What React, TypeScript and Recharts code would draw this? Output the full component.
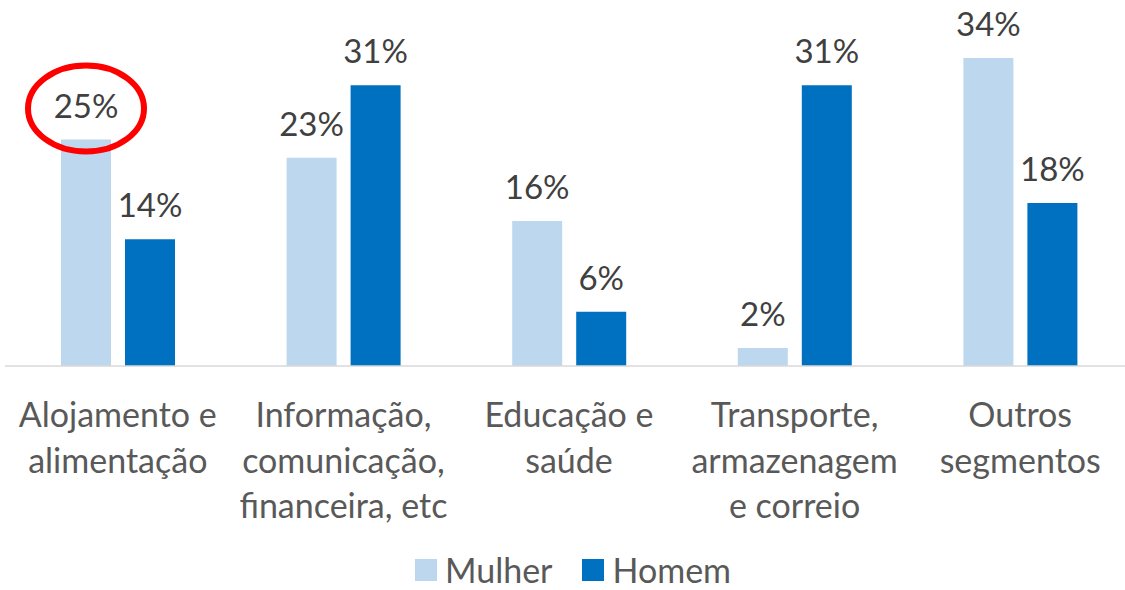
import { BarChart, Bar, XAxis, YAxis, Legend, LabelList } from "recharts";

const categories = [
  "Alojamento e alimentação",
  "Informação, comunicação, financeira, etc",
  "Educação e saúde",
  "Transporte, armazenagem e correio",
  "Outros segmentos",
];

// how each category label breaks into lines under the axis
const categoryLines = [
  ["Alojamento e", "alimentação"],
  ["Informação,", "comunicação,", "financeira, etc"],
  ["Educação e", "saúde"],
  ["Transporte,", "armazenagem", "e correio"],
  ["Outros", "segmentos"],
];

const mulher = [25, 23, 16, 2, 34];
const homem = [14, 31, 6, 31, 18];

// the label that carries the red circle
const circledIndex = 0;

const data = categories.map((name, i) => ({
  name,
  lines: categoryLines[i],
  Mulher: mulher[i],
  Homem: homem[i],
}));

const FONT = "Lato, 'Noto Sans', sans-serif";
const LIGHT = "#BDD7EE";
const DARK = "#0070C0";

function CategoryTick(props: any) {
  const { x, y, payload, index } = props;
  const lines = data[index]?.lines ?? [payload.value];
  return (
    <text
      x={x}
      y={y}
      textAnchor="middle"
      fill="#595959"
      fontSize={34}
      fontFamily={FONT}
    >
      {lines.map((line: string, i: number) => (
        <tspan key={i} x={x} y={y + 61 + i * 45.5}>
          {line}
        </tspan>
      ))}
    </text>
  );
}

function makeLabel(circled: boolean) {
  return (props: any) => {
    const { x, y, width, value, index } = props;
    const cx = x + width / 2;
    return (
      <g>
        <text
          x={cx}
          y={y - 22}
          textAnchor="middle"
          fill="#404040"
          fontSize={33}
          fontFamily={FONT}
        >
          {value}%
        </text>
        {circled && index === circledIndex && (
          <ellipse
            cx={cx}
            cy={y - 31}
            rx={58}
            ry={43}
            fill="none"
            stroke="#FF0000"
            strokeWidth={6}
          />
        )}
      </g>
    );
  };
}

function LegendContent() {
  const items = [
    { label: "Mulher", color: LIGHT },
    { label: "Homem", color: DARK },
  ];
  return (
    <div
      style={{
        position: "relative",
        top: 12,
        display: "flex",
        justifyContent: "center",
        alignItems: "center",
        height: 44,
        paddingLeft: 8,
        fontFamily: FONT,
        fontSize: 34,
        lineHeight: "40px",
        color: "#595959",
      }}
    >
      {items.map((it, i) => (
        <div
          key={it.label}
          style={{ display: "flex", alignItems: "center", marginLeft: i ? 30 : 0 }}
        >
          <span
            style={{
              display: "inline-block",
              width: 22,
              height: 22,
              background: it.color,
              marginRight: 8,
            }}
          />
          <span>{it.label}</span>
        </div>
      ))}
    </div>
  );
}

export default function App() {
  return (
    <div
      style={{
        position: "absolute",
        left: 0,
        top: 0,
        width: 1125,
        height: 590,
        overflow: "hidden",
        background: "#fff",
      }}
    >
      <BarChart
        width={1133}
        height={590}
        data={data}
        margin={{ top: 58, right: 0, bottom: 10, left: 5 }}
        barSize={50}
        barGap={14}
      >
        <XAxis
          dataKey="name"
          interval={0}
          tickLine={false}
          tickSize={0}
          tickMargin={0}
          height={170}
          axisLine={{ stroke: "#D9D9D9", strokeWidth: 1.5 }}
          tick={<CategoryTick />}
        />
        <YAxis hide domain={[0, 34]} />
        <Legend verticalAlign="bottom" height={44} content={<LegendContent />} />
        <Bar dataKey="Mulher" fill={LIGHT} isAnimationActive={false}>
          <LabelList dataKey="Mulher" content={makeLabel(true)} />
        </Bar>
        <Bar dataKey="Homem" fill={DARK} isAnimationActive={false}>
          <LabelList dataKey="Homem" content={makeLabel(false)} />
        </Bar>
      </BarChart>
    </div>
  );
}
